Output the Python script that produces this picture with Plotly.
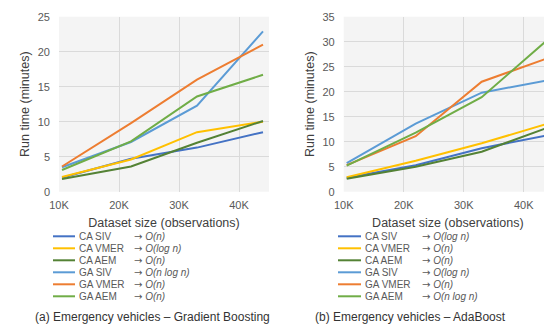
import plotly.graph_objects as go

W, H = 552, 327
OFF = 8  # page body margin offset

sizes = [10500, 22000, 33000, 44000]
series = ["CA SIV", "CA VMER", "CA AEM", "GA SIV", "GA VMER", "GA AEM"]
colors = ["#4472C4", "#FFC000", "#548235", "#5B9BD5", "#ED7D31", "#70AD47"]

gb_values = {
    "CA SIV": [2.0, 4.7, 6.3, 8.5],
    "CA VMER": [2.1, 4.6, 8.5, 10.0],
    "CA AEM": [1.8, 3.6, 7.0, 10.1],
    "GA SIV": [3.5, 7.1, 12.3, 22.9],
    "GA VMER": [3.6, 9.8, 16.0, 21.0],
    "GA AEM": [3.1, 7.2, 13.6, 16.7],
}
ada_values = {
    "CA SIV": [2.8, 5.3, 8.7, 11.3],
    "CA VMER": [2.9, 6.2, 9.7, 13.6],
    "CA AEM": [2.6, 5.0, 8.0, 12.8],
    "GA SIV": [5.7, 13.6, 19.8, 22.3],
    "GA VMER": [5.3, 11.1, 22.0, 26.7],
    "GA AEM": [5.2, 11.8, 18.9, 30.4],
}
gb_complexity = ["O(n)", "O(log n)", "O(n)", "O(n log n)", "O(n)", "O(n)"]
ada_complexity = ["O(log n)", "O(n)", "O(n)", "O(log n)", "O(n)", "O(n log n)"]

x_ticks = [10000, 20000, 30000, 40000]
x_ticklabels = ["10K", "20K", "30K", "40K"]
captions = ["(a) Emergency vehicles \u2013 Gradient Boosting", "(b) Emergency vehicles \u2013 AdaBoost"]

FONT = "Liberation Sans, Arial, sans-serif"
TXT = "#595959"


def px(x):
    return (x - OFF) / W


def py(y):
    return 1 - (y - OFF) / H


fig = go.Figure()
for name, c in zip(series, colors):
    fig.add_trace(go.Scatter(x=sizes, y=gb_values[name], mode="lines", name=name,
                             line=dict(color=c, width=2), xaxis="x", yaxis="y", showlegend=False))
for name, c in zip(series, colors):
    fig.add_trace(go.Scatter(x=sizes, y=ada_values[name], mode="lines", name=name,
                             line=dict(color=c, width=2), xaxis="x2", yaxis="y2", showlegend=False))

ydom = [py(191.7), py(16.7)]
common_x = dict(tickvals=x_ticks, ticktext=x_ticklabels, showgrid=True, gridcolor="#DADADA",
                gridwidth=1, zeroline=False, showline=False, ticks="", automargin=False,
                tickfont=dict(size=11, color=TXT, family=FONT), ticklabelstandoff=5,
                title=dict(text="Dataset size (observations)", font=dict(size=12.5, color="#404040", family=FONT), standoff=8))
common_y = dict(showgrid=True, gridcolor="#DADADA", gridwidth=1, zeroline=False, showline=False,
                ticks="", automargin=False, ticklabelstandoff=8,
                tickfont=dict(size=11, color=TXT, family=FONT), domain=ydom,
                title=dict(text="Run time (minutes)", font=dict(size=12.5, color="#404040", family=FONT), standoff=5))

x1d = [px(59), px(269)]
x2d = [px(343.7), px(552)]
fig.update_layout(
    width=W, height=H, margin=dict(l=0, r=0, t=0, b=0),
    paper_bgcolor="white", plot_bgcolor="#F4F4F4",
    font=dict(family=FONT, color=TXT),
    xaxis=dict(domain=x1d, range=[10000, 45000], anchor="y", **common_x),
    yaxis=dict(range=[0, 25], dtick=5, anchor="x", **common_y),
    xaxis2=dict(domain=x2d, range=[10000, 10000 + (552 - 343.7) / 6 * 1000], anchor="y2", **common_x),
    yaxis2=dict(range=[0, 35], dtick=5, anchor="x2", **common_y),
)

shapes = []
annotations = []
row_y = [236.3 + 12 * i for i in range(6)]
legends = [
    (53, 75, 76.5, 132, gb_complexity),
    (338, 361, 362.5, 420, ada_complexity),
]
ARROW = '<span style="font-family:DejaVu Sans">\u2192</span>'
for lx0, lx1, tx, ax, comp in legends:
    for i, (name, c) in enumerate(zip(series, colors)):
        yy = py(row_y[i])
        shapes.append(dict(type="line", xref="paper", yref="paper", x0=px(lx0), x1=px(lx1),
                           y0=yy, y1=yy, line=dict(color=c, width=2)))
        annotations.append(dict(xref="paper", yref="paper", x=px(tx), y=yy, xanchor="left",
                                yanchor="middle", showarrow=False, text=name,
                                font=dict(size=10, color=TXT, family=FONT)))
        annotations.append(dict(xref="paper", yref="paper", x=px(ax), y=yy, xanchor="left",
                                yanchor="middle", showarrow=False,
                                text=ARROW + " <i>" + comp[i] + "</i>",
                                font=dict(size=10, color=TXT, family=FONT)))

for cx, cap in zip([152, 410], captions):
    annotations.append(dict(xref="paper", yref="paper", x=px(cx), y=py(316.5), xanchor="center",
                            yanchor="middle", showarrow=False, text=cap,
                            font=dict(size=12, color="#333333", family=FONT)))

fig.update_layout(shapes=shapes, annotations=annotations)
fig.write_html("out.html")
